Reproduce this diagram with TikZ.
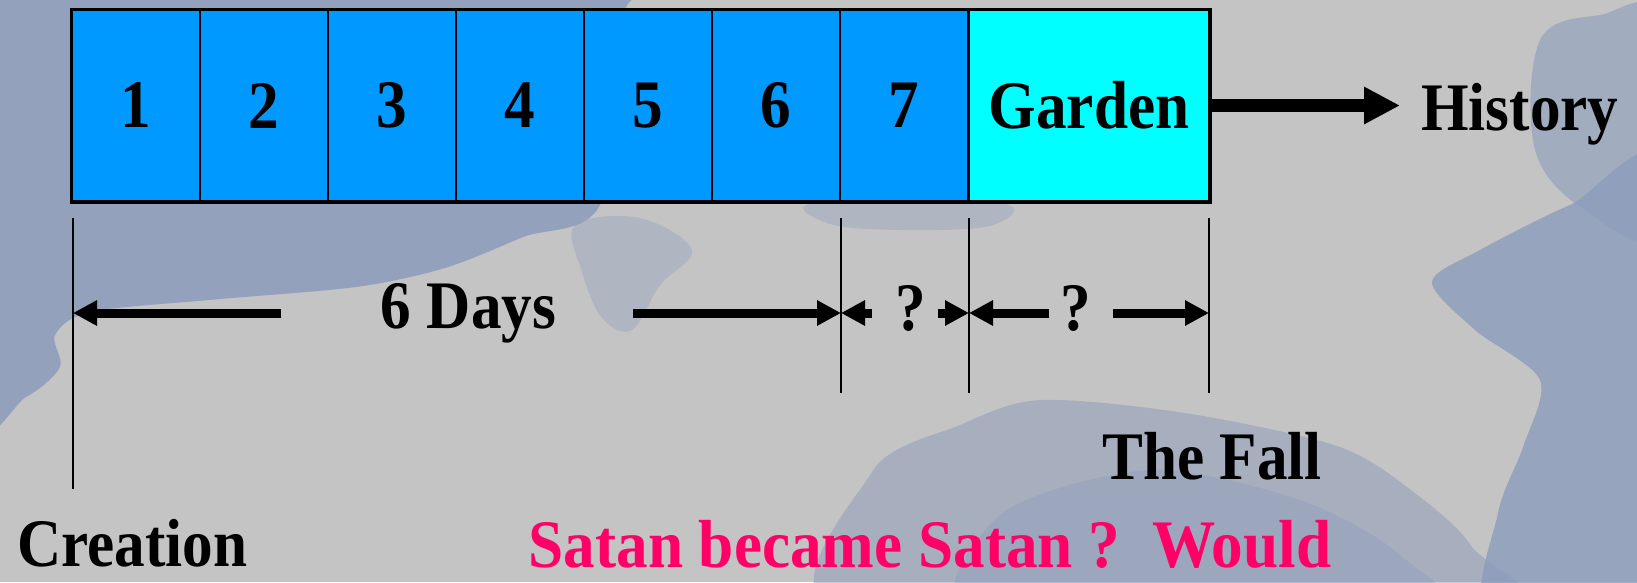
\documentclass[tikz,border=0pt]{standalone}
\usepackage{fontspec}
\setmainfont{Liberation Serif}
\usetikzlibrary{arrows.meta}
\definecolor{bg}{RGB}{196,196,196}
\definecolor{sky}{RGB}{140,156,188}
\definecolor{dayblue}{RGB}{0,153,255}
\definecolor{gardencol}{RGB}{0,255,255}
\definecolor{satancol}{RGB}{255,0,102}
\newcommand\nar[1]{\scalebox{0.9}[1]{#1}}
\begin{document}
\begin{tikzpicture}[x=1pt,y=-1pt,
  big/.style={font=\fontsize{68}{70}\selectfont\bfseries},
  cell/.style={draw=black,line width=2pt,fill=dayblue,minimum width=128pt,minimum height=191pt,inner sep=0pt,big},
  vline/.style={line width=2pt},
  dim/.style={line width=9pt,-{Triangle[length=24pt,width=24pt]}},
  lbl/.style={big,inner sep=0pt,anchor=base},
  cloud/.style={fill=sky,opacity=#1},
  cloud/.default=.8
]
\useasboundingbox (0,0) rectangle (1637,582);
\fill[bg] (0,0) rectangle (1637,582);
\begin{scope}
\clip (0,0) rectangle (1637,582);
% top-left sky
\fill[cloud=.85] plot[smooth cycle,tension=.5] coordinates {(-30,-30) (660,-30) (625,10) (601,203) (523,237) (445,268) (356,287) (209,300) (90,312) (55,335) (60,367) (26,397) (-30,412)};
% faint streaks
\fill[cloud=.35] plot[smooth cycle,tension=.6] coordinates {(575,225) (640,218) (692,250) (660,285) (632,330) (602,318) (582,272)};
\fill[cloud=.35] plot[smooth cycle,tension=.6] coordinates {(815,203) (1000,203) (990,226) (900,230) (830,224)};
% top-right
\fill[cloud=.6] plot[smooth cycle,tension=.6] coordinates {(1540,40) (1600,15) (1660,20) (1660,230) (1585,210) (1535,150)};
% right side
\fill[cloud=.8] plot[smooth cycle,tension=.5] coordinates {(1432,282) (1475,330) (1540,380) (1523,447) (1498,513) (1490,620) (1670,620) (1670,170) (1570,205) (1480,250)};
% bottom middle
\fill[cloud=.5] plot[smooth cycle,tension=.5] coordinates {(872,472) (960,425) (1040,400) (1185,413) (1340,447) (1420,497) (1472,547) (1498,620) (850,620)};
\fill[cloud=.4] plot[smooth cycle,tension=.5] coordinates {(1000,515) (1150,470) (1300,500) (1400,555) (1430,620) (980,620)};
\end{scope}
% cells
\foreach \i [evaluate=\i as \cx using 72+128*\i-64] in {1,...,7}
  \node[cell] (c\i) at (\cx,105.5) {\nar{\i}};
\node[cell,fill=gardencol,minimum width=240pt] (g) at (1089,105.5) {\nar{Garden}};
\draw[line width=3pt] (c1.north west) rectangle (g.south east);
% history
\node[lbl,anchor=base west] (hist) at (1421,130) {\nar{History}};
\draw[line width=13pt,-{Triangle[length=36pt,width=35pt]},shorten >=21pt] (g.east) -- (g.east -| hist.west);
% ticks
\coordinate (p0) at (73,218);
\coordinate (p1) at (841,218);
\coordinate (p2) at (969,218);
\coordinate (p3) at (1209,218);
\draw[vline] (p0) -- ++(0,271);
\draw[vline] (p1) -- ++(0,175);
\draw[vline] (p2) -- ++(0,175);
\draw[vline] (p3) -- ++(0,175);
% dimension arrows
\coordinate (a0) at (73,313);
\coordinate (a1) at (841,313);
\coordinate (a2) at (969,313);
\coordinate (a3) at (1209,313);
\coordinate (s0) at (281,313);
\coordinate (s1) at (633,313);
\coordinate (s2) at (872,313);
\coordinate (s3) at (938,313);
\coordinate (s4) at (1049,313);
\coordinate (s5) at (1113,313);
\node[lbl] (six) at (468.5,328) {\nar{6 Days}};
\node[lbl] (q1) at (911,330) {\nar{?}};
\node[lbl] (q2) at (1076,330) {\nar{?}};
\draw[dim] (s0) -- (a0);
\draw[dim] (s1) -- (a1);
\draw[dim] (s2) -- (a1);
\draw[dim] (s3) -- (a2);
\draw[dim] (s4) -- (a2);
\draw[dim] (s5) -- (a3);
% labels
\node[lbl] (fall) at (1212,479) {\nar{The Fall}};
\node[lbl] (creation) at (132.5,566) {\nar{Creation}};
\node[lbl,text=satancol] (satan) at (930,567) {\scalebox{0.93}[1]{Satan became Satan ?\ \ Would}};
\end{tikzpicture}
\end{document}
